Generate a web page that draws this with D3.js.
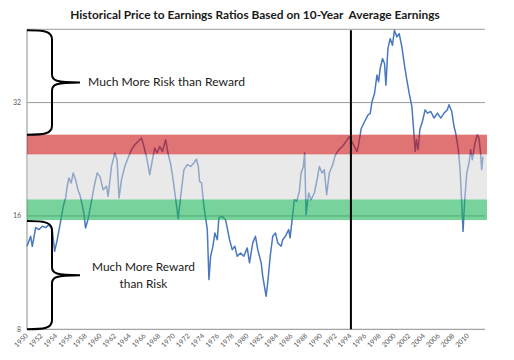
<!DOCTYPE html>
<html><head><meta charset="utf-8">
<script src="https://cdn.jsdelivr.net/npm/d3@7"></script>
<style>html,body{margin:0;padding:0;background:#fff;} svg{display:block;background:#fff}</style>
</head><body>
<svg id="chart" width="514" height="360"></svg>
<script>
// ---------------- data ----------------
const years = [
1950.00,1950.50,1950.72,1951.18,1951.63,1952.08,1952.54,1952.99,1953.43,1953.76,
1954.11,1954.57,1954.93,1955.25,1955.47,1955.70,1956.01,1956.28,1956.61,1956.92,
1957.19,1957.50,1957.73,1957.96,1958.28,1958.64,1959.09,1959.54,1959.91,1960.35,
1960.81,1961.03,1961.49,1961.94,1962.25,1962.52,1962.85,1963.30,1963.74,1964.21,
1964.65,1965.10,1965.56,1965.78,1966.24,1966.69,1967.06,1967.37,1967.68,1968.05,
1968.41,1968.86,1969.17,1969.50,1969.77,1970.08,1970.56,1970.90,1971.34,1971.80,
1972.25,1972.70,1973.03,1973.30,1973.47,1973.74,1974.06,1974.52,1974.74,1974.97,
1975.28,1975.55,1975.88,1976.09,1976.55,1977.00,1977.23,1977.54,1977.91,1978.26,
1978.59,1979.04,1979.48,1979.95,1980.26,1980.70,1981.07,1981.38,1981.85,1982.06,
1982.52,1982.74,1983.07,1983.42,1983.79,1984.10,1984.56,1984.78,1985.14,1985.59,
1985.78,1986.05,1986.36,1986.68,1987.04,1987.27,1987.58,1987.76,1987.95,1988.30,
1988.63,1989.08,1989.53,1989.76,1990.12,1990.43,1990.75,1991.11,1991.56,1991.93,
1992.37,1992.84,1993.19,1993.51,1993.83,1994.19,1994.55,1994.87,1995.09,1995.45,
1995.90,1996.36,1996.68,1996.91,1997.26,1997.59,1997.81,1998.03,1998.35,1998.62,
1998.81,1999.08,1999.39,1999.70,1999.97,2000.30,2000.61,2000.98,2001.33,2001.66,
2001.97,2002.34,2002.51,2002.79,2002.96,2003.19,2003.42,2003.77,2004.14,2004.45,
2004.91,2005.36,2005.81,2006.27,2006.72,2007.16,2007.39,2007.76,2008.07,2008.30,
2008.66,2008.89,2009.12,2009.30,2009.53,2009.80,2010.11,2010.34,2010.56,2010.92,
2011.24,2011.47,2011.70,2011.83,2012.01];

const pe = [
13.29,14.13,13.29,14.90,14.72,15.02,14.90,15.17,14.72,12.89,
13.84,15.48,16.97,17.86,19.17,20.18,19.57,20.80,19.97,18.79,
18.22,17.14,16.30,14.87,15.64,16.97,18.98,20.80,20.38,18.79,
19.17,18.04,21.66,23.51,22.57,17.86,19.97,21.66,22.80,23.99,
24.73,25.23,25.76,24.99,23.02,20.59,22.57,24.24,23.51,24.47,
23.74,25.49,23.51,22.12,20.59,18.59,15.74,18.04,21.23,21.89,
21.66,22.12,22.66,21.66,19.76,19.57,16.97,14.72,10.84,12.50,
13.29,14.42,13.84,15.80,15.96,15.64,14.87,13.84,13.02,13.29,
12.50,12.76,12.50,13.16,12.01,13.57,14.13,13.02,12.01,11.06,
9.79,10.65,12.50,14.13,14.42,13.57,13.29,13.84,14.13,14.72,
13.99,15.64,17.67,17.49,18.59,20.80,21.66,23.51,16.13,18.41,
17.67,18.41,20.38,21.66,20.80,21.23,18.22,20.80,21.85,23.22,
23.94,24.43,24.93,25.45,25.97,25.19,24.43,23.69,24.68,27.32,
28.46,29.65,29.94,32.16,33.83,37.86,36.34,39.41,41.89,40.63,
35.61,44.53,47.33,45.46,49.83,47.83,48.80,45.00,40.23,36.71,
33.91,31.24,28.24,23.74,25.49,23.99,27.10,28.51,30.62,30.01,
30.31,29.11,30.01,29.11,30.01,30.62,31.57,30.31,27.65,26.56,
23.99,21.23,17.32,14.56,17.67,20.80,22.12,23.99,22.57,24.99,
26.29,25.76,23.27,21.23,23.02];

const yTickLabels = [8, 16, 32];
const yGridValues = [16, 32, 50.1];
const xTickLabels = [1950,1952,1954,1956,1958,1960,1962,1964,1966,1968,1970,1972,1974,1976,1978,
                     1980,1982,1984,1986,1988,1990,1992,1994,1996,1998,2000,2002,2004,2006,2008,2010];
const bandNames = ["risk", "neutral", "reward"];
const bandLow  = [23.3, 17.7, 15.6];
const bandHigh = [26.3, 23.3, 17.7];
const markerYear = 1994.05;
const titleText = "Historical Price to Earnings Ratios Based on 10-Year  Average Earnings";
const riskLabel = ["Much More Risk than Reward"];
const rewardLabel = ["Much More Reward", "than Risk"];
const xDomain = [1950, 2012.42];
const yDomain = [8, 50.1];

// ---------------- styles / layout ----------------
const bandFill = {risk: "rgb(203,22,22)", neutral: "rgb(212,212,212)", reward: "rgb(30,180,88)"};
const bandOpacity = {risk: 0.6, neutral: 0.5, reward: 0.6};
const W = 514, H = 360;
const L = 27, R = 486, T = 29.3, B = 329.3;
const FONT = "Lato, 'Open Sans', 'DejaVu Sans', sans-serif";

const svg = d3.select("#chart");
const x = d3.scaleLinear().domain(xDomain).range([L, R]);
const y = d3.scaleLog().base(2).domain(yDomain).range([B, T]);

// gridlines
svg.append("g").selectAll("line").data(yGridValues).join("line")
  .attr("x1", L).attr("x2", R - 1)
  .attr("y1", d => y(d)).attr("y2", d => y(d))
  .attr("stroke", "#9a9a9a").attr("stroke-width", 1);

// axes lines
svg.append("line").attr("x1", L).attr("x2", R - 1).attr("y1", B).attr("y2", B)
  .attr("stroke", "#8c8c8c").attr("stroke-width", 1);
svg.append("line").attr("x1", L).attr("x2", L).attr("y1", T).attr("y2", B)
  .attr("stroke", "#8c8c8c").attr("stroke-width", 1);

// series line
const series = years.map((yr, i) => ({yr, v: pe[i]}));
svg.append("path").datum(series)
  .attr("fill", "none").attr("stroke", "#4a78be").attr("stroke-width", 1.5)
  .attr("stroke-linejoin", "round")
  .attr("d", d3.line().x(d => x(d.yr)).y(d => y(d.v)));

// translucent bands on top
svg.append("g").selectAll("rect").data(bandNames).join("rect")
  .attr("x", L).attr("width", R + 1 - L)
  .attr("y", (d, i) => y(bandHigh[i]))
  .attr("height", (d, i) => y(bandLow[i]) - y(bandHigh[i]))
  .attr("fill", d => bandFill[d]).attr("fill-opacity", d => bandOpacity[d]);

// marker line
svg.append("line").attr("x1", x(markerYear)).attr("x2", x(markerYear))
  .attr("y1", T + 1).attr("y2", B)
  .attr("stroke", "#000").attr("stroke-width", 2);

// braces
function brace(x0, xs, xt, y0, y1) {
  const ym = (y0 + y1) / 2;
  return `M${x0},${y0} C${xs - 8},${y0} ${xs},${y0 + 1} ${xs},${y0 + 9}` +
         ` L${xs},${ym - 8} C${xs},${ym - 2} ${xs + 4},${ym} ${xt},${ym}` +
         ` C${xs + 4},${ym} ${xs},${ym + 2} ${xs},${ym + 8}` +
         ` L${xs},${y1 - 9} C${xs},${y1 - 1} ${xs - 8},${y1} ${x0},${y1}`;
}
svg.append("path").attr("d", brace(L, 52, 80, y(yDomain[1]) + 1, y(bandHigh[0])))
  .attr("fill", "none").attr("stroke", "#000").attr("stroke-width", 2);
svg.append("path").attr("d", brace(L, 52, 80, y(bandLow[2]) + 1, B))
  .attr("fill", "none").attr("stroke", "#000").attr("stroke-width", 2);

// fit text width helper
function fit(sel, target) {
  const w = sel.node().getComputedTextLength();
  const fs = parseFloat(sel.attr("font-size"));
  sel.attr("font-size", fs * target / w);
}

// annotations
const riskMid = (y(yDomain[1]) + y(bandHigh[0])) / 2;
const r1 = svg.append("text").attr("x", 88).attr("y", riskMid + 4.5)
  .attr("font-family", FONT).attr("font-size", 13).attr("fill", "#1a1a1a").text(riskLabel[0]);
fit(r1, 157);
const rewardMid = (y(bandLow[2]) + B) / 2;
rewardLabel.forEach((t, i) => {
  const s = svg.append("text").attr("x", 143.5).attr("y", rewardMid - 4 + i * 17.5)
    .attr("text-anchor", "middle").attr("font-family", FONT).attr("font-size", 13)
    .attr("fill", "#1a1a1a").text(t);
  if (i === 0) fit(s, 103);
  else s.attr("font-size", svg.selectAll("text").nodes().slice(-2)[0].getAttribute("font-size"));
});

// title
const tt = svg.append("text").attr("x", 255).attr("y", 18.5).attr("text-anchor", "middle")
  .attr("font-family", FONT).attr("font-weight", "bold").attr("font-size", 13)
  .attr("fill", "#1a1a1a").style("white-space", "pre").text(titleText);
fit(tt, 370);

// y tick labels
svg.append("g").selectAll("text").data(yTickLabels).join("text")
  .attr("x", 21).attr("y", d => y(d) + 2.5).attr("text-anchor", "end")
  .attr("font-family", FONT).attr("font-size", 7).attr("fill", "#595959")
  .text(d => d);

// x tick labels
svg.append("g").selectAll("text").data(xTickLabels).join("text")
  .attr("transform", d => `translate(${x(d) + 1.5},${B + 7}) rotate(-45)`)
  .attr("text-anchor", "end")
  .attr("font-family", FONT).attr("font-size", 7).attr("fill", "#595959")
  .text(d => d);
</script>
</body></html>
